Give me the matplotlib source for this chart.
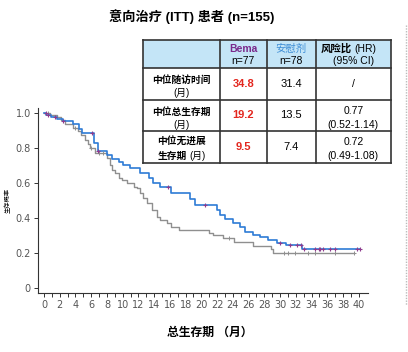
import numpy as np
import matplotlib
matplotlib.use('Agg')
import matplotlib.pyplot as plt
from matplotlib.patches import Rectangle

plt.rcParams['font.family'] = ['Liberation Sans', 'Noto Sans CJK SC']

# Bema (blue) KM steps: time (months), survival after step
bema_t = [0, 0.3, 0.9, 1.6, 2.4, 3.7, 4.4, 4.8, 6.4, 6.8, 8.0, 8.6, 9.5, 10.1, 10.9,
          12.2, 13.4, 13.8, 14.8, 16.2, 18.6, 19.2, 22.0, 22.4, 23.0, 24.0, 24.9,
          25.6, 26.6, 27.5, 28.5, 29.6, 30.8, 32.8]
bema_s = [1.0, 0.99, 0.977, 0.964, 0.952, 0.937, 0.91, 0.884, 0.83, 0.781, 0.762, 0.735,
          0.718, 0.703, 0.684, 0.655, 0.627, 0.598, 0.579, 0.541, 0.508, 0.476, 0.446,
          0.417, 0.392, 0.37, 0.35, 0.322, 0.303, 0.29, 0.272, 0.258, 0.246, 0.221]
bema_end = 40.2
bema_cens = [0.2, 0.5, 1.4, 2.4, 6.1, 6.9, 15.8, 20.5, 30.0, 31.3, 32.1, 32.6, 33.0,
             34.5, 34.9, 35.1, 35.5, 36.4, 37.0, 39.8, 40.1]

# Placebo (grey) KM steps
plac_t = [0, 0.8, 1.6, 2.1, 2.7, 3.7, 4.3, 4.7, 5.2, 5.6, 5.9, 6.5, 8.0, 8.4, 8.6, 9.0,
          9.5, 9.9, 10.5, 11.4, 11.8, 12.2, 12.6, 13.1, 13.7, 14.3, 14.8, 15.6, 16.2,
          17.1, 21.0, 21.5, 22.8, 24.1, 26.5, 28.8, 29.1]
plac_s = [1.0, 0.987, 0.974, 0.96, 0.935, 0.912, 0.895, 0.874, 0.848, 0.822, 0.798, 0.771,
          0.741, 0.70, 0.674, 0.655, 0.627, 0.617, 0.598, 0.579, 0.570, 0.541, 0.513,
          0.484, 0.446, 0.408, 0.389, 0.37, 0.35, 0.331, 0.316, 0.303, 0.288, 0.26,
          0.24, 0.22, 0.199]
plac_end = 39.4
plac_cens = [0.5, 4.0, 6.0, 7.0, 7.5, 23.5, 30.5, 31.0, 31.9, 33.6, 34.5, 37.0, 39.4]

x_ticks = list(range(0, 41, 2))
y_ticks = [0, 0.2, 0.4, 0.6, 0.8, 1.0]
y_tick_labels = ['0', '0.2', '0.4', '0.6', '0.8', '1.0']

# table contents
row_labels = [('中位随访时间', '(月)'), ('中位总生存期', '(月)'), ('中位无进展', '生存期 (月)')]
bema_vals = ['34.8', '19.2', '9.5']
plac_vals = ['31.4', '13.5', '7.4']
hr_vals = [('/', ''), ('0.77', '(0.52-1.14)'), ('0.72', '(0.49-1.08)')]

blue = '#2E7BD6'
grey = '#8F8F8F'
purple = '#8E3C8E'

fig = plt.figure(figsize=(4.08, 3.52), dpi=100)
ax = fig.add_axes([0.0924, 0.1676, 0.810, 0.526])


def surv_at(ts, ss, t):
    i = np.searchsorted(ts, t, side='right') - 1
    return np.array(ss)[i]


ax.step(plac_t + [plac_end], plac_s + [plac_s[-1]], where='post', color=grey, lw=1.0)
ax.step(bema_t + [bema_end], bema_s + [bema_s[-1]], where='post', color=blue, lw=1.2)
ax.plot(plac_cens, surv_at(plac_t, plac_s, plac_cens), '+', color=grey, ms=3.5, mew=0.7)
ax.plot(bema_cens, surv_at(bema_t, bema_s, bema_cens), '+', color=purple, ms=3.5, mew=0.8)

ax.set_xlim(-0.8, 41.2)
ax.set_ylim(-0.029, 1.029)
ax.set_xticks(x_ticks)
ax.set_xticks(range(1, 41, 2), minor=True)
ax.set_yticks(y_ticks)
ax.set_yticklabels(y_tick_labels)
for s in ['top', 'right']:
    ax.spines[s].set_visible(False)
for s in ['left', 'bottom']:
    ax.spines[s].set_color('#333333')
    ax.spines[s].set_linewidth(0.8)
ax.tick_params(which='both', direction='out', length=3, width=0.7, color='#333333',
               labelsize=7, labelcolor='#555555', pad=2)
for lab in ax.get_xticklabels() + ax.get_yticklabels():
    lab.set_family('DejaVu Sans')

ax.set_xlabel('总生存期 （月）', fontsize=8.5, fontweight='bold', labelpad=12, x=0.52)
ax.set_ylabel('生存概率', fontsize=4.5, labelpad=3)

# overlay in pixel coordinates for title and table
ov = fig.add_axes([0, 0, 1, 1])
ov.set_xlim(0, 408)
ov.set_ylim(352, 0)
ov.axis('off')

ov.text(192, 17, '意向治疗 (ITT) 患者 (n=155)', ha='center', va='center',
        fontsize=9.5, fontweight='bold')
ov.plot([406, 406], [25, 305], color='#BBBBBB', lw=1.0, ls=(0, (1, 1)))

xs = [143, 220, 266.5, 315.5, 391]
ys = [40, 68.3, 100, 130.7, 163.3]
ov.add_patch(Rectangle((xs[0], ys[0]), xs[-1] - xs[0], ys[1] - ys[0],
                       facecolor='#C4E5F7', edgecolor='none', zorder=1))
ov.add_patch(Rectangle((xs[0], ys[1]), xs[-1] - xs[0], ys[-1] - ys[1],
                       facecolor='white', edgecolor='none', zorder=1))
for x in xs:
    ov.plot([x, x], [ys[0], ys[-1]], color='#333333', lw=1.2, zorder=2)
for y in ys:
    ov.plot([xs[0], xs[-1]], [y, y], color='#333333', lw=1.2, zorder=2)

cx = [(xs[i] + xs[i + 1]) / 2 for i in range(4)]
ov.text(cx[1], 48.5, 'Bema', ha='center', va='center', fontsize=7.5, fontweight='bold',
        color='#7A2A8C', zorder=3)
ov.text(cx[1], 61, 'n=77', ha='center', va='center', fontsize=7.5, zorder=3)
ov.text(cx[2], 48.5, '安慰剂', ha='center', va='center', fontsize=7.5, color='#3E8ED6',
        zorder=3)
ov.text(cx[2], 61, 'n=78', ha='center', va='center', fontsize=7.5, zorder=3)
ov.text(352, 48.5, '风险比', ha='right', va='center', fontsize=7.5, fontweight='bold',
        zorder=3)
ov.text(354, 48.5, '(HR)', ha='left', va='center', fontsize=7.5, zorder=3)
ov.text(cx[3], 61, '(95% CI)', ha='center', va='center', fontsize=7.5, zorder=3)

for i in range(3):
    top, bot = ys[i + 1], ys[i + 2]
    mid = (top + bot) / 2
    l1, l2 = row_labels[i]
    ov.text(cx[0], top + 11.5, l1, ha='center', va='center', fontsize=7,
            fontweight='bold', zorder=3)
    if i < 2:
        ov.text(cx[0], top + 25, l2, ha='center', va='center', fontsize=7, zorder=3)
    else:
        ov.text(187, top + 25, l2.split(' ')[0], ha='right', va='center', fontsize=7,
                fontweight='bold', zorder=3)
        ov.text(189, top + 25, l2.split(' ')[1], ha='left', va='center', fontsize=7,
                zorder=3)
    ov.text(cx[1], mid, bema_vals[i], ha='center', va='center', fontsize=8,
            fontweight='bold', color='#E3261E', zorder=3)
    ov.text(cx[2], mid, plac_vals[i], ha='center', va='center', fontsize=8, zorder=3)
    h1, h2 = hr_vals[i]
    if h2:
        ov.text(cx[3], top + 11.5, h1, ha='center', va='center', fontsize=7.5, zorder=3)
        ov.text(cx[3], top + 25, h2, ha='center', va='center', fontsize=7.5, zorder=3)
    else:
        ov.text(cx[3], mid, h1, ha='center', va='center', fontsize=7.5, zorder=3)

fig.savefig('out.png', dpi=100)
